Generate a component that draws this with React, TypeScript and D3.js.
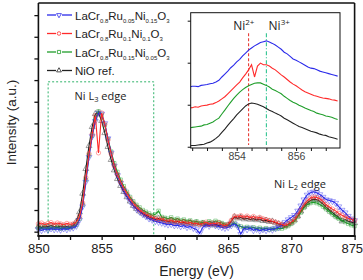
import { useEffect, useRef } from "react";
import * as d3 from "d3";

const W = 363;
const H = 280;

// survey scan, 0.25 eV steps from 850 to 875 eV
const energy = d3.range(0, 101).map((i) => 850 + i * 0.25);

const ru005 = [
  0.05, 0.03, 0.06, 0.04, 0.07, 0.05, 0.06, 0.04, 0.07, 0.05,
  0.08, 0.09, 0.13, 0.27, 0.58, 1.15, 1.72, 2.2, 2.55, 2.74,
  2.72, 2.5, 2.15, 1.82, 1.52, 1.3, 1.12, 0.95, 0.82, 0.7,
  0.6, 0.52, 0.46, 0.4, 0.35, 0.3, 0.27, 0.24, 0.22, 0.2,
  0.18, 0.16, 0.17, 0.14, 0.15, 0.12, 0.14, 0.1, 0.12, 0.08,
  0.05, -0.04, 0.1, 0.16, 0.13, 0.18, 0.14, 0.12, 0.1, 0.08,
  0.1, 0.14, 0.18, 0.12, -0.06, 0.08, 0.05, 0.09, 0.03, 0.06,
  0.02, 0.05, 0.03, 0.06, 0.04, 0.08, 0.1, 0.15, 0.22, 0.28,
  0.33, 0.38, 0.48, 0.6, 0.74, 0.85, 0.9, 0.92, 0.9, 0.86,
  0.8, 0.74, 0.72, 0.7, 0.66, 0.58, 0.5, 0.44, 0.36, 0.3,
  0.26,
];

const ru010 = [
  0.18, 0.2, 0.16, 0.19, 0.21, 0.17, 0.2, 0.18, 0.16, 0.19,
  0.17, 0.18, 0.22, 0.35, 0.66, 1.25, 1.8, 2.25, 2.68, 1.82,
  2.74, 2.48, 2.12, 1.8, 1.52, 1.32, 1.15, 1.0, 0.88, 0.76,
  0.66, 0.58, 0.5, 0.45, 0.4, 0.37, 0.33, 0.31, 0.28, 0.3,
  0.26, 0.24, 0.27, 0.22, 0.25, 0.21, 0.23, 0.19, 0.22, 0.18,
  0.2, 0.16, 0.19, 0.22, 0.17, 0.2, 0.18, 0.21, 0.16, 0.14,
  0.17, 0.26, 0.36, 0.34, 0.37, 0.33, 0.36, 0.32, 0.35, 0.31,
  0.33, 0.3, 0.28, 0.26, 0.24, 0.22, 0.19, 0.17, 0.14, 0.18,
  0.22, 0.28, 0.38, 0.5, 0.62, 0.71, 0.77, 0.8, 0.79, 0.76,
  0.7, 0.62, 0.57, 0.52, 0.48, 0.42, 0.38, 0.34, 0.31, 0.28,
  0.26,
];

const ru015 = [
  0.09, 0.07, 0.1, 0.06, 0.09, 0.08, 0.11, 0.07, 0.1, 0.08,
  0.11, 0.12, 0.16, 0.3, 0.62, 1.2, 1.76, 2.22, 2.6, 2.78,
  2.7, 2.46, 2.14, 1.85, 1.58, 1.38, 1.2, 1.05, 0.92, 0.8,
  0.7, 0.62, 0.56, 0.5, 0.46, 0.42, 0.38, 0.4, 0.48, 0.34,
  0.32, 0.3, 0.33, 0.28, 0.3, 0.26, 0.28, 0.24, 0.26, 0.22,
  0.24, 0.2, 0.22, 0.19, 0.24, 0.21, 0.25, 0.22, 0.2, 0.17,
  0.14, 0.16, 0.2, 0.14, 0.12, 0.09, 0.11, 0.08, 0.1, 0.07,
  0.09, 0.06, 0.08, 0.05, 0.07, 0.06, 0.08, 0.07, 0.1, 0.13,
  0.18, 0.24, 0.34, 0.44, 0.55, 0.62, 0.66, 0.68, 0.66, 0.63,
  0.58, 0.52, 0.46, 0.4, 0.34, 0.3, 0.26, 0.22, 0.18, 0.15,
  0.13,
];

const nioRef = [
  0.12, 0.1, 0.13, 0.11, 0.14, 0.12, 0.1, 0.13, 0.11, 0.12,
  0.1, 0.14, 0.24, 0.45, 0.88, 1.45, 1.98, 2.42, 2.72, 2.74,
  2.56, 2.28, 1.96, 1.66, 1.42, 1.22, 1.06, 0.92, 0.8, 0.7,
  0.6, 0.53, 0.47, 0.42, 0.38, 0.34, 0.31, 0.28, 0.3, 0.26,
  0.27, 0.23, 0.25, 0.22, 0.24, 0.2, 0.22, 0.19, 0.21, 0.18,
  0.2, 0.17, 0.19, 0.16, 0.18, 0.15, 0.17, 0.14, 0.16, 0.13,
  0.15, 0.24, 0.34, 0.31, 0.33, 0.29, 0.31, 0.28, 0.3, 0.27,
  0.29, 0.25, 0.26, 0.23, 0.24, 0.2, 0.18, 0.15, 0.13, 0.17,
  0.21, 0.27, 0.36, 0.47, 0.58, 0.66, 0.72, 0.75, 0.74, 0.7,
  0.64, 0.56, 0.5, 0.44, 0.38, 0.33, 0.24, 0.28, 0.24, 0.22,
  0.2,
];

// L3 zoom, 0.1 eV steps from 852.4 to 857.4 eV, curves stacked with offsets
const zoomEnergy = d3.range(0, 51).map((i) => 852.4 + i * 0.1);

const zoomRu005 = [
  1.42, 1.44, 1.44, 1.43, 1.46, 1.47,
  1.48, 1.5, 1.51, 1.54, 1.58, 1.66, 1.73, 1.8, 1.88, 1.94,
  2.02, 2.08, 2.16, 2.23, 2.3, 2.35, 2.4, 2.44, 2.48, 2.5,
  2.52, 2.49, 2.46, 2.42, 2.37, 2.32, 2.25, 2.21, 2.15, 2.09,
  2.06, 2.02, 1.98, 1.94, 1.9, 1.87, 1.86, 1.83, 1.8, 1.78,
  1.76, 1.74, 1.72, 1.7, 1.68,
];

const zoomRu010 = [
  0.92, 0.93, 0.95, 0.94, 0.97, 0.98,
  0.99, 1.01, 1.02, 1.05, 1.09, 1.14, 1.19, 1.26, 1.33, 1.4,
  1.47, 1.54, 1.64, 1.73, 1.83, 1.95, 1.66, 1.92, 1.99, 1.95,
  1.95, 1.92, 1.87, 1.83, 1.77, 1.71, 1.66, 1.6, 1.54, 1.49,
  1.45, 1.4, 1.35, 1.31, 1.28, 1.25, 1.22, 1.2, 1.18, 1.16,
  1.15, 1.14, 1.12, 1.11, 1.09,
];

const zoomRu015 = [
  0.45, 0.46, 0.47, 0.48, 0.49, 0.52,
  0.53, 0.56, 0.59, 0.64, 0.68, 0.78, 0.87, 0.97, 1.06, 1.15,
  1.23, 1.3, 1.36, 1.41, 1.45, 1.48, 1.51, 1.52, 1.52, 1.49,
  1.46, 1.42, 1.37, 1.34, 1.3, 1.26, 1.2, 1.15, 1.1, 1.06,
  1.03, 0.99, 0.96, 0.92, 0.89, 0.86, 0.84, 0.8, 0.78, 0.76,
  0.73, 0.72, 0.7, 0.67, 0.65,
];

const zoomNio = [
  0.02, 0.03, 0.03, 0.04, 0.05, 0.06,
  0.09, 0.11, 0.15, 0.2, 0.26, 0.34, 0.42, 0.51, 0.59, 0.67,
  0.76, 0.83, 0.9, 0.97, 1.02, 1.04, 1.03, 1.01, 0.98, 0.95,
  0.91, 0.87, 0.84, 0.8, 0.77, 0.73, 0.68, 0.64, 0.6, 0.56,
  0.52, 0.48, 0.46, 0.43, 0.4, 0.37, 0.35, 0.33, 0.3, 0.28,
  0.27, 0.24, 0.22, 0.2, 0.18,
];

// legend labels as [text, isSubscript] runs
const legendLabels: [string, boolean][][] = [
  [["LaCr", false], ["0.8", true], ["Ru", false], ["0.05", true], ["Ni", false], ["0.15", true], ["O", false], ["3", true]],
  [["LaCr", false], ["0.8", true], ["Ru", false], ["0.1", true], ["Ni", false], ["0.1", true], ["O", false], ["3", true]],
  [["LaCr", false], ["0.8", true], ["Ru", false], ["0.15", true], ["Ni", false], ["0.05", true], ["O", false], ["3", true]],
  [["NiO ref.", false]],
];

const xTicks = [850, 855, 860, 865, 870, 875];
const zoomXTicks = [854, 856];
const niLines = [854.4, 855.0]; // Ni2+, Ni3+ L3 positions
const l3Box = [850.77, 859.12, 3.46];

const COLORS = {
  blue: "#2b2bea",
  red: "#ff2b2b",
  green: "#1f9e2a",
  black: "#222222",
  box: "#2fb36a",
  ni2: "#e8403a",
  ni3: "#2fc490",
  axis: "#111",
  tickText: "#222",
};

const SANS = "'Liberation Sans', Arial, sans-serif";
const ANNOT = "'Open Sans', 'Liberation Sans', sans-serif";

type Series = {
  values: number[];
  zoom: number[];
  color: string;
  symbol: d3.SymbolType;
  rotate: number;
};

const series: Series[] = [
  { values: ru005, zoom: zoomRu005, color: COLORS.blue, symbol: d3.symbolTriangle, rotate: 180 },
  { values: ru010, zoom: zoomRu010, color: COLORS.red, symbol: d3.symbolCircle, rotate: 0 },
  { values: ru015, zoom: zoomRu015, color: COLORS.green, symbol: d3.symbolSquare, rotate: 0 },
  { values: nioRef, zoom: zoomNio, color: COLORS.black, symbol: d3.symbolTriangle, rotate: 0 },
];

// paint order: NiO, Ru0.15, Ru0.05, Ru0.1 on top
const drawOrder = [3, 2, 0, 1];

export default function App() {
  const svgRef = useRef<SVGSVGElement>(null);

  useEffect(() => {
    if (!svgRef.current) return;
    const svg = d3.select(svgRef.current);
    svg.selectAll("*").remove();

    const x = d3.scaleLinear().domain([850, 875]).range([38.4, 354.6]);
    const y = d3.scaleLinear().domain([-0.1, 5.28]).range([236, 3]);

    svg.append("rect").attr("width", W).attr("height", H).attr("fill", "#fff");

    // ============ L3 REGION BOX ============
    svg.append("rect")
      .attr("x", x(l3Box[0]))
      .attr("y", y(l3Box[2]))
      .attr("width", x(l3Box[1]) - x(l3Box[0]))
      .attr("height", y(-0.1) - y(l3Box[2]))
      .attr("fill", "none")
      .attr("stroke", COLORS.box)
      .attr("stroke-width", 1)
      .attr("stroke-dasharray", "2,2");

    svg.append("text")
      .attr("x", 100.5).attr("y", 99.5)
      .attr("text-anchor", "middle")
      .attr("font-family", ANNOT).attr("font-size", 11).attr("fill", "#222")
      .call((t) => {
        t.append("tspan").text("Ni L");
        t.append("tspan").attr("font-size", 7.5).attr("dy", 2.5).text("3");
        t.append("tspan").attr("dy", -2.5).text(" edge");
      });

    svg.append("text")
      .attr("x", 300).attr("y", 187.5)
      .attr("text-anchor", "middle")
      .attr("font-family", ANNOT).attr("font-size", 11).attr("fill", "#222")
      .call((t) => {
        t.append("tspan").text("Ni L");
        t.append("tspan").attr("font-size", 7.5).attr("dy", 2.5).text("2");
        t.append("tspan").attr("dy", -2.5).text(" edge");
      });

    // ============ SPECTRA ============
    const line = d3.line<number>()
      .x((_, i) => x(energy[i]))
      .y((d) => y(d));

    const spectra = svg.append("g").attr("class", "spectra");
    drawOrder.forEach((k) => {
      const s = series[k];
      const g = spectra.append("g");
      g.append("path")
        .datum(s.values)
        .attr("d", line)
        .attr("fill", "none")
        .attr("stroke", s.color)
        .attr("stroke-width", 1.1);
      const sym = d3.symbol().type(s.symbol).size(s.symbol === d3.symbolSquare ? 12 : 15);
      g.selectAll("path.marker")
        .data(s.values)
        .join("path")
        .attr("class", "marker")
        .attr("d", sym)
        .attr("transform", (d, i) => `translate(${x(energy[i])},${y(d)}) rotate(${s.rotate})`)
        .attr("fill", "none")
        .attr("stroke", s.color)
        .attr("stroke-opacity", 0.55)
        .attr("stroke-width", 0.75);
    });

    // ============ AXES / FRAME ============
    const x0 = x(850), x1 = x(875), yTop = 3, yBot = 236;

    svg.append("g")
      .attr("transform", `translate(0,${yBot})`)
      .call(
        d3.axisBottom(x)
          .tickValues(d3.range(850, 875.01, 2.5))
          .tickSize(4)
          .tickFormat((d) => (xTicks.includes(+d) ? String(d) : ""))
      )
      .call((g) => g.select(".domain").remove())
      .call((g) => g.selectAll("line").attr("stroke", COLORS.axis).attr("stroke-width", 1.3))
      .call((g) => g.selectAll("text")
        .attr("y", 8)
        .attr("fill", COLORS.tickText)
        .attr("font-size", 13)
        .attr("font-family", SANS))
      // keep the last label inside the canvas
      .call((g) => g.selectAll<SVGTextElement, number>("text")
        .filter((d) => d === 875)
        .attr("text-anchor", "end")
        .attr("dx", 8));

    svg.append("g")
      .attr("transform", `translate(${x0},0)`)
      .call(d3.axisLeft(y).tickValues(d3.range(0, 5.01, 0.5)).tickSize(4).tickFormat(() => ""))
      .call((g) => g.select(".domain").remove())
      .call((g) => g.selectAll("line").attr("stroke", COLORS.axis).attr("stroke-width", 1.3));

    const frame = svg.append("g").attr("stroke", COLORS.axis).attr("fill", "none");
    frame.append("line").attr("x1", x0).attr("x2", x0).attr("y1", yTop).attr("y2", yBot).attr("stroke-width", 1.6);
    frame.append("line").attr("x1", x1).attr("x2", x1).attr("y1", yTop).attr("y2", yBot).attr("stroke-width", 1.6);
    frame.append("line").attr("x1", x0).attr("x2", x1).attr("y1", yTop).attr("y2", yTop).attr("stroke-width", 1.6);
    frame.append("line").attr("x1", x0 - 1).attr("x2", x1 + 1).attr("y1", yBot).attr("y2", yBot).attr("stroke-width", 2);

    svg.append("text")
      .attr("transform", "translate(15.5,122.5) rotate(-90)")
      .attr("text-anchor", "middle")
      .attr("font-family", SANS).attr("font-size", 13.5).attr("fill", "#222")
      .text("Intensity (a.u.)");

    svg.append("text")
      .attr("x", 196.5).attr("y", 276)
      .attr("text-anchor", "middle")
      .attr("font-family", SANS).attr("font-size", 14).attr("fill", "#222")
      .text("Energy (eV)");

    // ============ LEGEND ============
    const legend = svg.append("g").attr("class", "legend");
    series.forEach((s, i) => {
      const cy = 15 + i * 18.5;
      const lg = legend.append("g").attr("transform", `translate(0,${cy})`);
      lg.append("line")
        .attr("x1", 47).attr("x2", 72).attr("y1", 0).attr("y2", 0)
        .attr("stroke", s.color).attr("stroke-width", 1.3);
      lg.append("rect").attr("x", 56).attr("y", -3).attr("width", 6).attr("height", 6).attr("fill", "#fff");
      lg.append("path")
        .attr("d", d3.symbol().type(s.symbol).size(10)())
        .attr("transform", `translate(59,0) rotate(${s.rotate})`)
        .attr("fill", "none")
        .attr("stroke", s.color)
        .attr("stroke-width", 0.8);
      const t = lg.append("text")
        .attr("x", 75).attr("y", 4.5)
        .attr("font-family", SANS).attr("font-size", 11.5).attr("fill", "#222");
      let sub = false;
      legendLabels[i].forEach(([txt, isSub]) => {
        const dy = isSub === sub ? 0 : isSub ? 3 : -3;
        t.append("tspan")
          .attr("dy", dy)
          .attr("font-size", isSub ? 6 : 11.5)
          .text(txt);
        sub = isSub;
      });
    });

    // ============ INSET ============
    const ix = d3.scaleLinear().domain([852.45, 857.48]).range([190.7, 340]);
    const iy = d3.scaleLinear().domain([-0.03, 3.19]).range([148, 12.7]);

    const inset = svg.append("g").attr("class", "inset");
    inset.append("rect")
      .attr("x", 190.7).attr("y", 12.7).attr("width", 340 - 190.7).attr("height", 148 - 12.7)
      .attr("fill", "#fff");

    const defs = svg.append("defs");
    defs.append("clipPath").attr("id", "inset-clip")
      .append("rect")
      .attr("x", 190.7).attr("y", 12.7).attr("width", 340 - 190.7).attr("height", 148 - 12.7);

    const plot = inset.append("g").attr("clip-path", "url(#inset-clip)");

    // Ni2+ / Ni3+ markers
    plot.append("line")
      .attr("x1", ix(niLines[0])).attr("x2", ix(niLines[0]))
      .attr("y1", iy(2.7)).attr("y2", iy(0.04))
      .attr("stroke", COLORS.ni2).attr("stroke-width", 1.1).attr("stroke-dasharray", "3,2");
    plot.append("line")
      .attr("x1", ix(niLines[1])).attr("x2", ix(niLines[1]))
      .attr("y1", iy(2.7)).attr("y2", iy(0.04))
      .attr("stroke", COLORS.ni3).attr("stroke-width", 1.1).attr("stroke-dasharray", "4,2,1,2");

    const zoomLine = d3.line<number>()
      .x((_, i) => ix(zoomEnergy[i]))
      .y((d) => iy(d));

    series.forEach((s) => {
      plot.append("path")
        .datum(s.zoom)
        .attr("d", zoomLine)
        .attr("fill", "none")
        .attr("stroke", s.color)
        .attr("stroke-width", 1.1);
    });

    inset.append("g")
      .attr("transform", "translate(0,148)")
      .call(
        d3.axisBottom(ix)
          .tickValues(d3.range(852.5, 857.01, 0.5))
          .tickSize(3)
          .tickFormat((d) => (zoomXTicks.includes(+d) ? String(d) : ""))
      )
      .call((g) => g.select(".domain").remove())
      .call((g) => g.selectAll("line").attr("stroke", COLORS.axis))
      .call((g) => g.selectAll("text")
        .attr("y", 5)
        .attr("fill", "#444")
        .attr("font-size", 10.5)
        .attr("font-family", SANS));

    inset.append("g")
      .attr("transform", "translate(190.7,0)")
      .call(d3.axisLeft(iy).tickValues([0, 1, 2, 3]).tickSize(3).tickFormat(() => ""))
      .call((g) => g.select(".domain").remove())
      .call((g) => g.selectAll("line").attr("stroke", COLORS.axis));

    inset.append("rect")
      .attr("x", 190.7).attr("y", 12.7).attr("width", 340 - 190.7).attr("height", 148 - 12.7)
      .attr("fill", "none").attr("stroke", COLORS.axis).attr("stroke-width", 1);

    const ionLabel = (cx: number, charge: string) => {
      const t = inset.append("text")
        .attr("x", cx).attr("y", 30)
        .attr("text-anchor", "middle")
        .attr("font-family", ANNOT).attr("font-size", 12).attr("fill", "#222");
      t.append("tspan").text("Ni");
      t.append("tspan").attr("font-size", 8).attr("dy", -5).text(charge);
    };
    ionLabel(243.8, "2+");
    ionLabel(279.2, "3+");
  }, []);

  return (
    <svg
      ref={svgRef}
      width={W}
      height={H}
      style={{ position: "absolute", left: 0, top: 0, display: "block" }}
    />
  );
}
